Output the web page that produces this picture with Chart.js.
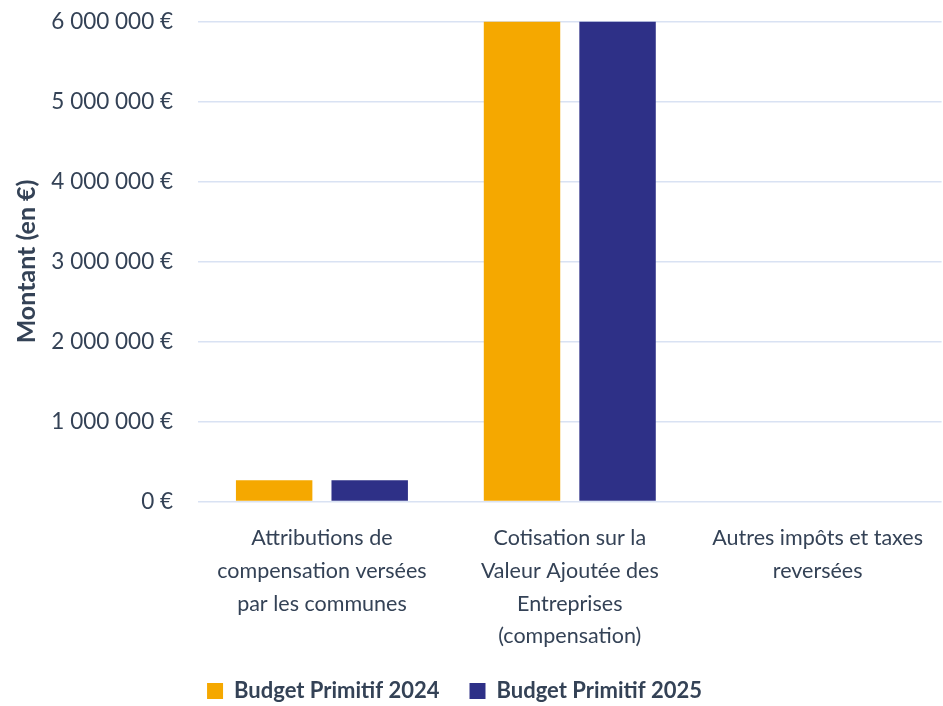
<!DOCTYPE html>
<html><head><meta charset="utf-8">
<script src="https://cdn.jsdelivr.net/npm/chart.js@4"></script>
<style>html,body{margin:0;padding:0;background:#fff}#wrap{width:943px;height:706px;overflow:hidden;position:relative}#c{position:absolute;left:0;top:-17px}</style>
</head><body><div id="wrap"><canvas id="c" width="943" height="729"></canvas></div>
<script>
const categories = [
  ["Attributions de", "compensation versées", "par les communes"],
  ["Cotisation sur la", "Valeur Ajoutée des", "Entreprises", "(compensation)"],
  ["Autres impôts et taxes", "reversées"]
];
const seriesNames = ["Budget Primitif 2024", "Budget Primitif 2025"];
const bp2024 = [265000, 6000000, 0];
const bp2025 = [265000, 6000000, 0];
const yTicks = [0, 1000000, 2000000, 3000000, 4000000, 5000000, 6000000];

const fmt = v => (v === 0 ? "0" : Math.round(v).toString().replace(/\B(?=(\d{3})+(?!\d))/g, " ")) + " €";
const FONT = "Lato, 'Open Sans', sans-serif";
const TXT = "#344256";

const legendShift = {
  id: 'legendShift',
  beforeDraw(chart) {
    const lg = chart.legend;
    if (lg && !lg._shifted) { lg.left -= 23; lg.right -= 23; lg._shifted = true; }
  }
};

new Chart(document.getElementById('c'), {
  type: 'bar',
  data: {
    labels: categories,
    datasets: [
      {label: seriesNames[0], data: bp2024, backgroundColor: '#f5a800', categoryPercentage: 0.771, barPercentage: 0.8},
      {label: seriesNames[1], data: bp2025, backgroundColor: '#2e3087', categoryPercentage: 0.771, barPercentage: 0.8}
    ]
  },
  plugins: [legendShift],
  options: {
    responsive: false,
    animation: false,
    layout: {padding: {top: 0, right: 0, left: 12, bottom: 0}},
    plugins: {
      legend: {
        position: 'bottom',
        labels: {boxWidth: 16, boxHeight: 16, padding: 30, color: TXT,
          font: {family: FONT, size: 22, weight: 'bold', lineHeight: 1}}
      },
      tooltip: {enabled: false}
    },
    scales: {
      x: {
        afterFit: s => { s.height -= 23; },
        grid: {display: false, drawTicks: false},
        border: {display: false},
        ticks: {color: TXT, font: {family: FONT, size: 21.5, lineHeight: 1.53}, padding: 20, maxRotation: 0, autoSkip: false}
      },
      y: {
        min: 0, max: 6000000,
        afterBuildTicks: s => { s.ticks = yTicks.map(v => ({value: v})); },
        afterFit: s => { s.width = 186; },
        grid: {color: '#d9e2f3', lineWidth: 1.5, drawTicks: false},
        border: {display: false},
        ticks: {color: TXT, font: {family: FONT, size: 22.5}, padding: 25, callback: v => fmt(v)},
        title: {display: true, text: 'Montant (en €)', color: TXT, font: {family: FONT, size: 25, weight: 'bold'}, padding: 0}
      }
    }
  }
});
</script></body></html>
